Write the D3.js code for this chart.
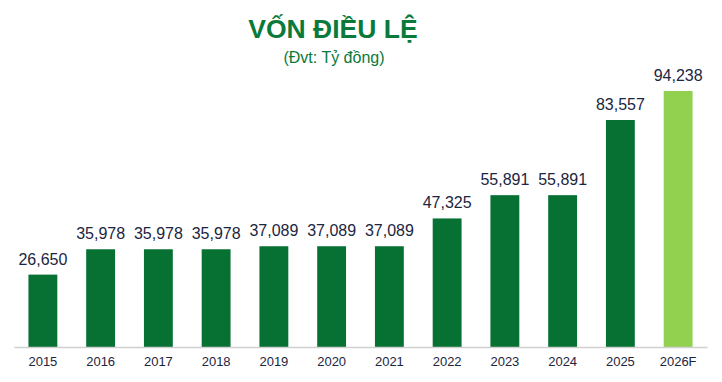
<!DOCTYPE html>
<html><head><meta charset="utf-8">
<script src="https://cdn.jsdelivr.net/npm/d3@7"></script>
<style>body{margin:0;background:#fff;}svg{display:block;font-family:"Liberation Sans",Arial,sans-serif;}</style>
</head><body>
<svg id="c" width="722" height="382"></svg>
<script>
const categories = ["2015","2016","2017","2018","2019","2020","2021","2022","2023","2024","2025","2026F"];
const values = [26650,35978,35978,35978,37089,37089,37089,47325,55891,55891,83557,94238];
const forecast = [false,false,false,false,false,false,false,false,false,false,false,true];
const title = "VỐN ĐIỀU LỆ";
const subtitle = "(Đvt: Tỷ đồng)";

const svg = d3.select("#c");
const x = d3.scaleBand().domain(categories).range([14, 707]).paddingInner(0.5).paddingOuter(0.25);
const y = d3.scaleLinear().domain([0, 94238]).range([347, 91]);

svg.append("text").attr("x", 333).attr("y", 38).attr("text-anchor","middle")
  .attr("font-size", 26.5).attr("font-weight","bold").attr("fill","#0a7a3a").text(title);
svg.append("text").attr("x", 334).attr("y", 63).attr("text-anchor","middle")
  .attr("font-size", 16).attr("fill","#0a7a3a").text(subtitle);

svg.selectAll("rect.bar").data(values).join("rect").attr("class","bar")
  .attr("x",(d,i)=>x(categories[i])).attr("width",x.bandwidth())
  .attr("y",d=>y(d)).attr("height",d=>y(0)-y(d))
  .attr("fill",(d,i)=>forecast[i]?"#92d050":"#077033");

svg.selectAll("text.val").data(values).join("text").attr("class","val")
  .attr("x",(d,i)=>x(categories[i])+x.bandwidth()/2).attr("y",d=>y(d)-10)
  .attr("text-anchor","middle").attr("font-size",16).attr("fill","#1c2541")
  .text(d=>d3.format(",")(d));

const ax = svg.append("g").attr("transform","translate(0,347)").call(d3.axisBottom(x).tickSize(0).tickPadding(10));
ax.select(".domain").attr("stroke","#d0d0d0").attr("stroke-width",1.5);
ax.selectAll("text").attr("font-size",13).attr("fill","#1c2541").attr("font-family","Liberation Sans, Arial, sans-serif");
</script>
</body></html>
